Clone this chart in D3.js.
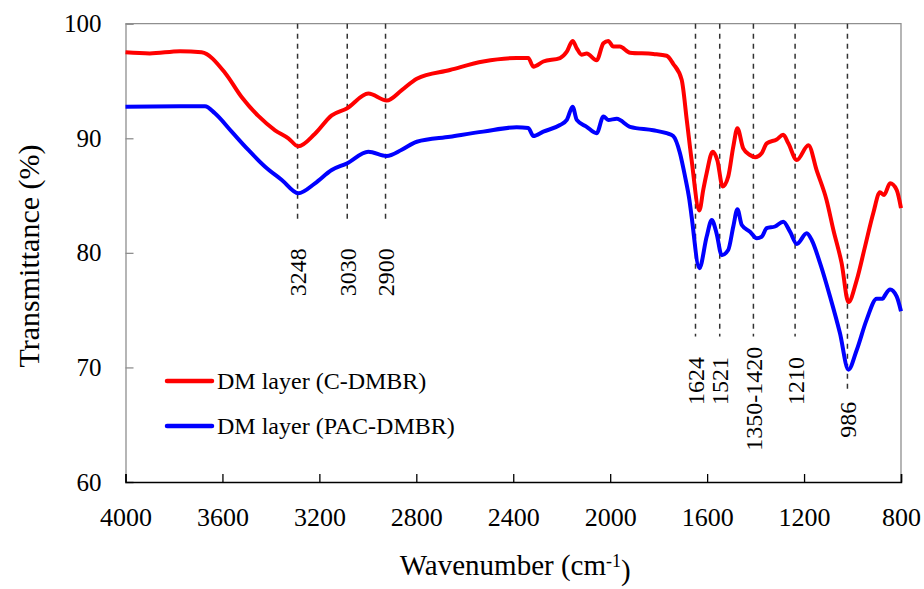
<!DOCTYPE html>
<html>
<head>
    <title>FTIR spectra</title>
    <script type="text/javascript" src="https://d3js.org/d3.v7.min.js"></script>
    <style>
        body { margin: 0; background: #fff; }
        svg text { font-family: "Liberation Serif", "Times New Roman", serif; fill: #000; }
    </style>
</head>
<body>
<script>
    // wavenumber (cm-1) and transmittance (%)
    var wnRed = [4000, 3900, 3775, 3686, 3589, 3521, 3452, 3383, 3328, 3287, 3218, 3149, 3087, 2998, 2922, 2860,
        2798, 2661, 2524, 2386, 2338, 2317, 2276, 2207, 2179, 2155, 2138, 2118, 2097, 2056, 2028, 2008, 1987,
        1960, 1918, 1822, 1767, 1740, 1705, 1684, 1664, 1632, 1616, 1602, 1577, 1558, 1536, 1513, 1492, 1475,
        1451, 1423, 1402, 1375, 1354, 1313, 1286, 1265, 1230, 1182, 1148, 1107, 1079, 1045, 1017, 983, 949,
        914, 887, 870, 845, 818, 800];
    var tRed = [97.5, 97.4, 97.6, 97.5, 95.7, 93.6, 91.95, 90.7, 90.0, 89.3, 90.4, 92.0, 92.6, 93.9, 93.3, 94.2,
        95.2, 95.96, 96.7, 97.0, 97.0, 96.25, 96.7, 97.0, 97.56, 98.5, 97.85, 97.3, 97.4, 96.8, 98.3, 98.5, 98.0,
        98.0, 97.47, 97.36, 97.2, 96.5, 95.1, 91.6, 88.1, 83.7, 85.5, 86.95, 88.83, 88.1, 85.8, 86.65, 89.27, 90.87,
        89.12, 88.54, 88.34, 88.69, 89.56, 89.9, 90.3, 89.56, 88.1, 89.4, 87.2, 84.6, 82.0, 79.1, 75.7, 77.6, 80.5,
        83.5, 85.3, 85.05, 86.07, 85.5, 83.9];

    var wnBlue = [4000, 3775, 3672, 3631, 3562, 3493, 3424, 3355, 3287, 3218, 3149, 3087, 2998, 2922, 2860, 2798,
        2661, 2524, 2386, 2338, 2317, 2276, 2207, 2179, 2155, 2138, 2097, 2056, 2028, 2008, 1973, 1918, 1822,
        1767, 1740, 1712, 1691, 1673, 1664, 1632, 1602, 1581, 1561, 1540, 1513, 1492, 1475, 1457, 1423, 1395,
        1375, 1354, 1320, 1286, 1258, 1230, 1189, 1168, 1134, 1093, 1052, 1017, 983, 942, 900, 875, 866, 845,
        818, 800];
    var tBlue = [92.76, 92.8, 92.8, 92.18, 90.58, 88.98, 87.52, 86.36, 85.2, 86.07, 87.23, 87.8, 88.83, 88.46, 89.0, 89.7,
        90.14, 90.58, 90.96, 90.9, 90.2, 90.58, 91.16, 91.6, 92.76, 91.6, 91.0, 90.44, 91.9, 91.6, 91.7, 91.0, 90.7,
        90.44, 90.2, 88.7, 86.65, 84.6, 83.16, 78.66, 81.4, 82.87, 81.7, 79.8, 80.25, 82.3, 83.8, 82.43, 81.85, 81.27,
        81.4, 82.15, 82.3, 82.72, 81.85, 80.78, 81.7, 81.1, 79.1, 76.2, 73.0, 69.8, 71.5, 74.15, 76.0, 76.0, 76.3, 76.8,
        76.2, 74.9];

    var seriesNames = ["DM layer (C-DMBR)", "DM layer (PAC-DMBR)"];

    // band markers: label, position on the wavenumber axis, where the dashed line stops (%), label top (%)
    var markerLabels = ["3248", "3030", "2900", "1624", "1521", "1350-1420", "1210", "986"];
    var markerWn = [3290, 3085, 2927, 1648, 1548, 1409, 1237, 1021];
    var markerEnd = [82.7, 82.7, 82.7, 72.7, 72.7, 72.7, 72.7, 68.0];
    var markerLabelTop = [80.4, 80.4, 80.4, 70.9, 70.9, 71.8, 70.9, 67.0];

    var xTicks = [4000, 3600, 3200, 2800, 2400, 2000, 1600, 1200, 800];
    var yTicks = [60, 70, 80, 90, 100];

    var margin = {top: 23.7, right: 23, bottom: 107, left: 125.5};
    var W = 924, H = 589;
    var width = W - margin.left - margin.right;
    var height = H - margin.top - margin.bottom;

    var xScale = d3.scaleLinear().domain([4000, 800]).range([0, width]);
    var yScale = d3.scaleLinear().domain([60, 100]).range([height, 0]);

    var svg = d3.select("body").append("svg")
        .attr("width", W)
        .attr("height", H);
    var g = svg.append("g")
        .attr("transform", "translate(" + margin.left + "," + margin.top + ")");

    // frame (top and right)
    g.append("path")
        .attr("d", "M0,0H" + width + "V" + height)
        .attr("fill", "none")
        .attr("stroke", "#8f8f8f")
        .attr("stroke-width", 1.3);

    // y axis
    var yAxis = g.append("g")
        .call(d3.axisLeft(yScale).tickValues(yTicks).tickSize(-8).tickPadding(24).tickFormat(d3.format("d")));
    yAxis.select(".domain").attr("stroke", "#8f8f8f").attr("stroke-width", 1.3);
    yAxis.selectAll(".tick line").attr("stroke", "#8f8f8f").attr("stroke-width", 1.3);
    yAxis.selectAll(".tick text").style("font-size", "25px");

    // x axis
    var xAxis = g.append("g")
        .attr("transform", "translate(0," + height + ")")
        .call(d3.axisBottom(xScale).tickValues(xTicks).tickSize(-8).tickPadding(26).tickFormat(d3.format("d")));
    xAxis.select(".domain").attr("stroke", "#000").attr("stroke-width", 1.5);
    xAxis.selectAll(".tick line").attr("stroke", "#000").attr("stroke-width", 1.3);
    xAxis.selectAll(".tick text").style("font-size", "26px");

    // dashed band markers
    var markers = markerLabels.map(function(d, i) {
        return {label: d, wn: markerWn[i], end: markerEnd[i], top: markerLabelTop[i]};
    });
    g.selectAll(".marker")
        .data(markers)
        .enter()
        .append("line")
        .attr("class", "marker")
        .attr("x1", function(d) { return xScale(d.wn); })
        .attr("x2", function(d) { return xScale(d.wn); })
        .attr("y1", yScale(100))
        .attr("y2", function(d) { return yScale(d.end); })
        .attr("stroke", "#333")
        .attr("stroke-width", 1.5)
        .attr("stroke-dasharray", "5,5");

    g.selectAll(".mlabel")
        .data(markers)
        .enter()
        .append("text")
        .attr("class", "mlabel")
        .attr("transform", function(d) {
            return "translate(" + xScale(d.wn) + "," + yScale(d.top) + ") rotate(-90)";
        })
        .attr("dy", "0.35em")
        .attr("text-anchor", "end")
        .style("font-size", "24px")
        .text(function(d) { return d.label; });

    // spectra
    var line = d3.line()
        .x(function(d) { return xScale(d[0]); })
        .y(function(d) { return yScale(d[1]); })
        .curve(d3.curveMonotoneX);

    var redData = wnRed.map(function(w, i) { return [w, tRed[i]]; });
    var blueData = wnBlue.map(function(w, i) { return [w, tBlue[i]]; });

    g.append("path")
        .datum(blueData)
        .attr("d", line)
        .attr("fill", "none")
        .attr("stroke", "#0000ff")
        .attr("stroke-width", 4)
        .attr("stroke-linejoin", "round");
    g.append("path")
        .datum(redData)
        .attr("d", line)
        .attr("fill", "none")
        .attr("stroke", "#ff0000")
        .attr("stroke-width", 4)
        .attr("stroke-linejoin", "round");

    // legend
    var legColors = ["#ff0000", "#0000ff"];
    var leg = svg.append("g").attr("transform", "translate(167,381)");
    var items = leg.selectAll(".item")
        .data(seriesNames)
        .enter()
        .append("g")
        .attr("transform", function(d, i) { return "translate(0," + (i * 45) + ")"; });
    items.append("line")
        .attr("x1", 0).attr("x2", 45)
        .attr("stroke", function(d, i) { return legColors[i]; })
        .attr("stroke-width", 4.5)
        .attr("stroke-linecap", "round");
    items.append("text")
        .attr("x", 50)
        .attr("dy", "0.35em")
        .style("font-size", "24px")
        .text(function(d) { return d; });

    // axis titles
    var xt = svg.append("text")
        .attr("x", margin.left + width / 2 + 2)
        .attr("y", 575)
        .attr("text-anchor", "middle")
        .style("font-size", "29px");
    xt.append("tspan").text("Wavenumber (cm");
    xt.append("tspan").attr("dy", "-0.45em").style("font-size", "18px").text("-1");
    xt.append("tspan").attr("dy", "0.45em").text(")");

    svg.append("text")
        .attr("transform", "translate(39," + 256 + ") rotate(-90)")
        .attr("text-anchor", "middle")
        .style("font-size", "30px")
        .text("Transmittance (%)");
</script>
</body>
</html>
